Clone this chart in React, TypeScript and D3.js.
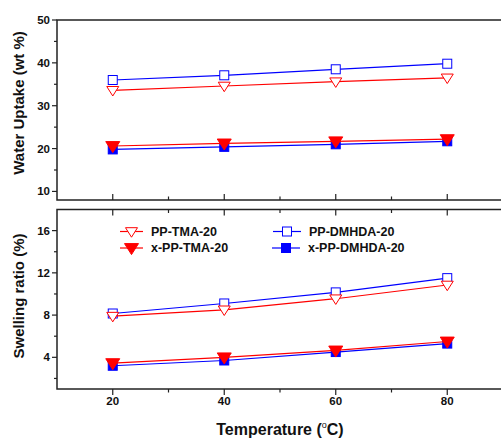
import React from "react";
import * as d3 from "d3";

const temps = [20, 40, 60, 80];
const xTicks = [20, 40, 60, 80];
const xMinor = [30, 50, 70];

const wuTicks = [10, 20, 30, 40, 50];
const wuMinor = [15, 25, 35, 45];
const srTicks = [4, 8, 12, 16];
const srMinor = [2, 6, 10, 14];

// Water uptake (wt %)
const wuPPTMA = [33.6, 34.6, 35.6, 36.5];
const wuPPDMHDA = [36.0, 37.1, 38.5, 39.8];
const wuXPPTMA = [20.6, 21.2, 21.7, 22.2];
const wuXPPDMHDA = [19.8, 20.4, 21.0, 21.7];

// Swelling ratio (%)
const srPPTMA = [7.9, 8.5, 9.55, 10.85];
const srPPDMHDA = [8.15, 9.1, 10.15, 11.5];
const srXPPTMA = [3.45, 4.0, 4.65, 5.5];
const srXPPDMHDA = [3.2, 3.7, 4.5, 5.3];

const seriesNames = ["PP-TMA-20", "x-PP-TMA-20", "PP-DMHDA-20", "x-PP-DMHDA-20"];

const RED = "#ff0000";
const BLUE = "#0000ff";
const FONT = "Arial, 'Liberation Sans', sans-serif";

type Kind = "triOpen" | "triFill" | "sqOpen" | "sqFill";

function Marker({ x, y, kind }: { x: number; y: number; kind: Kind }) {
  if (kind === "triOpen" || kind === "triFill") {
    const big = kind === "triFill";
    const w = big ? 7 : 6, h = big ? 11 : 9.5;
    const pts = `${x - w},${y - h * 0.4} ${x + w},${y - h * 0.4} ${x},${y + h * 0.6}`;
    return (
      <polygon
        points={pts}
        fill={big ? RED : "#fff"}
        stroke={RED}
        strokeWidth={1}
      />
    );
  }
  const s = 4.5;
  return (
    <rect
      x={x - s}
      y={y - s}
      width={2 * s}
      height={2 * s}
      fill={kind === "sqFill" ? BLUE : "#fff"}
      stroke={BLUE}
      strokeWidth={1}
    />
  );
}

export default function App() {
  const W = 501, H = 438;
  const x = d3.scaleLinear().domain([10, 90]).range([57, 503]);
  const yTop = d3.scaleLinear().domain([8, 50]).range([200, 20]);
  const yBot = d3.scaleLinear().domain([1, 18]).range([389, 209.5]);

  const line = (ys: d3.ScaleLinear<number, number>, vals: number[]) =>
    d3.line<number>().x((_, i) => x(temps[i])).y((v) => ys(v))(vals) || "";

  const panels = [
    {
      ys: yTop,
      ticks: wuTicks,
      minor: wuMinor,
      top: 20,
      bottom: 200,
      series: [
        { vals: wuXPPDMHDA, color: BLUE, kind: "sqFill" as Kind },
        { vals: wuPPDMHDA, color: BLUE, kind: "sqOpen" as Kind },
        { vals: wuPPTMA, color: RED, kind: "triOpen" as Kind },
        { vals: wuXPPTMA, color: RED, kind: "triFill" as Kind },
      ],
      title: "Water Uptake (wt %)",
      titleY: 103,
    },
    {
      ys: yBot,
      ticks: srTicks,
      minor: srMinor,
      top: 209.5,
      bottom: 389,
      series: [
        { vals: srXPPDMHDA, color: BLUE, kind: "sqFill" as Kind },
        { vals: srPPDMHDA, color: BLUE, kind: "sqOpen" as Kind },
        { vals: srPPTMA, color: RED, kind: "triOpen" as Kind },
        { vals: srXPPTMA, color: RED, kind: "triFill" as Kind },
      ],
      title: "Swelling ratio (%)",
      titleY: 296,
    },
  ];

  const x0 = x(10), x1 = x(90);
  const axisColor = "#222";

  const legend = [
    { name: seriesNames[0], kind: "triOpen" as Kind, color: RED, lx: 120, ly: 231.5, len: 23 },
    { name: seriesNames[1], kind: "triFill" as Kind, color: RED, lx: 120, ly: 248, len: 23 },
    { name: seriesNames[2], kind: "sqOpen" as Kind, color: BLUE, lx: 273, ly: 231.5, len: 28 },
    { name: seriesNames[3], kind: "sqFill" as Kind, color: BLUE, lx: 272, ly: 248, len: 28 },
  ];

  return (
    <svg
      width={W}
      height={H}
      style={{ position: "absolute", left: 0, top: 0, background: "#fff" }}
      fontFamily={FONT}
    >
      <rect width={W} height={H} fill="#fff" />
      {panels.map((p, pi) => (
        <g key={pi}>
          <rect
            x={x0}
            y={p.top}
            width={x1 - x0}
            height={p.bottom - p.top}
            fill="none"
            stroke={axisColor}
            strokeWidth={1.5}
          />
          {p.ticks.map((t) => (
            <g key={t}>
              <line x1={x0 - 5} x2={x0} y1={p.ys(t)} y2={p.ys(t)} stroke={axisColor} strokeWidth={1.2} />
              <text
                x={x0 - 7}
                y={p.ys(t)}
                dy="0.35em"
                textAnchor="end"
                fontSize={11.5}
                fontWeight="bold"
                fill="#111"
              >
                {t}
              </text>
            </g>
          ))}
          {p.minor.map((t) => (
            <line key={t} x1={x0 - 3} x2={x0} y1={p.ys(t)} y2={p.ys(t)} stroke={axisColor} strokeWidth={1.2} />
          ))}
          {[...xTicks.map((t) => ({ t, l: 6 })), ...xMinor.map((t) => ({ t, l: 3.5 }))].map(({ t, l }) => (
            <g key={t}>
              {pi === 0 ? (
                <line x1={x(t)} x2={x(t)} y1={p.bottom} y2={p.bottom - l} stroke={axisColor} strokeWidth={1.2} />
              ) : (
                <>
                  <line x1={x(t)} x2={x(t)} y1={p.top} y2={p.top + l} stroke={axisColor} strokeWidth={1.2} />
                  <line x1={x(t)} x2={x(t)} y1={p.bottom} y2={p.bottom + l} stroke={axisColor} strokeWidth={1.2} />
                </>
              )}
            </g>
          ))}
          <text
            transform={`translate(24,${p.titleY}) rotate(-90)`}
            textAnchor="middle"
            fontSize={15}
            fontWeight="bold"
            fill="#111"
          >
            {p.title}
          </text>
          {p.series.map((s, si) => (
            <g key={si}>
              <path d={line(p.ys, s.vals)} fill="none" stroke={s.color} strokeWidth={1.2} />
              {s.vals.map((v, i) => (
                <Marker key={i} x={x(temps[i])} y={p.ys(v)} kind={s.kind} />
              ))}
            </g>
          ))}
        </g>
      ))}
      {xTicks.map((t) => (
        <text
          key={t}
          x={x(t)}
          y={405}
          textAnchor="middle"
          fontSize={11.5}
          fontWeight="bold"
          fill="#111"
        >
          {t}
        </text>
      ))}
      <text x={280} y={435} textAnchor="middle" fontSize={16} fontWeight="bold" fill="#111">
        Temperature (<tspan dy={-7} fontSize={9} fontWeight="normal">o</tspan>
        <tspan dy={7}>C)</tspan>
      </text>
      {legend.map((l, i) => (
        <g key={i}>
          <line x1={l.lx} x2={l.lx + l.len} y1={l.ly} y2={l.ly} stroke={l.color} strokeWidth={1.2} />
          <Marker x={l.lx + l.len / 2} y={l.ly} kind={l.kind} />
          <text x={l.lx + l.len + 8} y={l.ly} dy="0.35em" fontSize={12.5} fontWeight="bold" fill="#111">
            {l.name}
          </text>
        </g>
      ))}
    </svg>
  );
}
